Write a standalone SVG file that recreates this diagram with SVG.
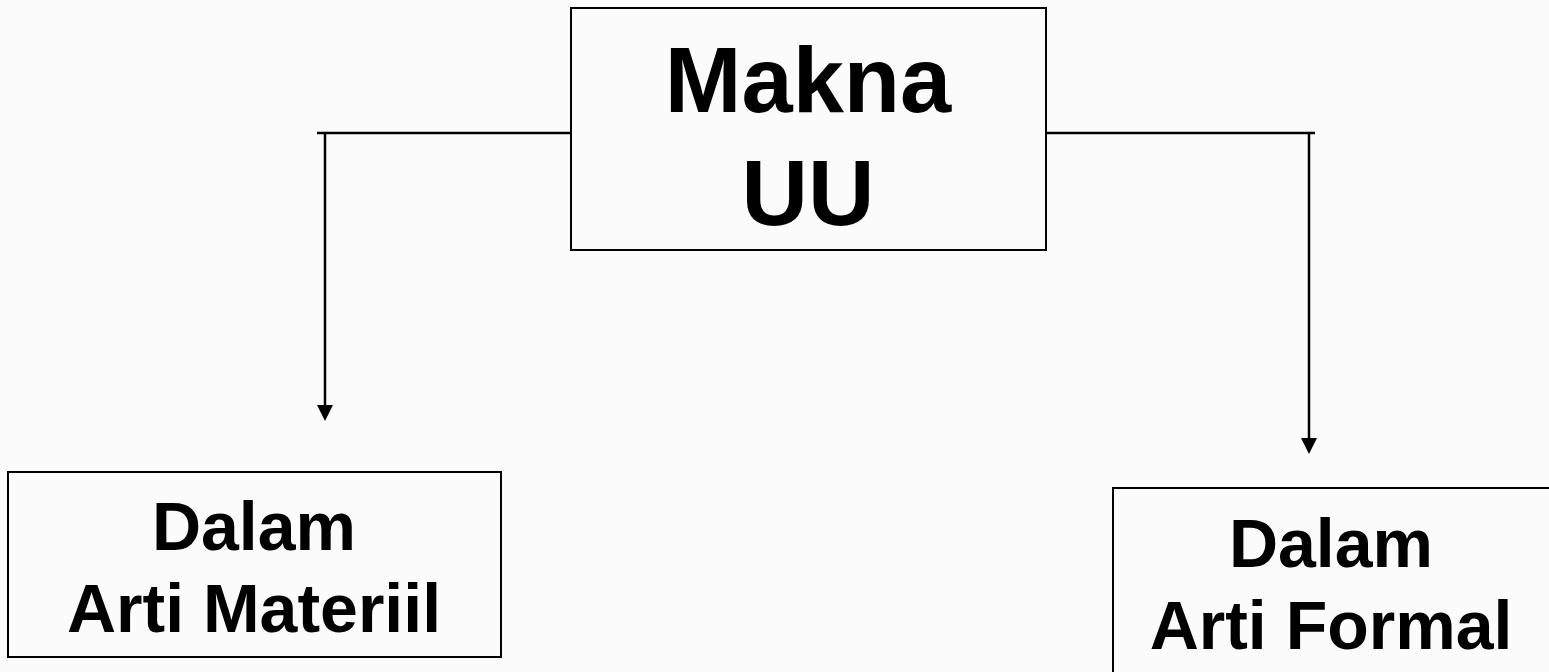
<svg xmlns="http://www.w3.org/2000/svg" width="1549" height="672" viewBox="0 0 1549 672">
<defs>
<style>
.box{fill:none;stroke:#000;stroke-width:2}
.ln{fill:none;stroke:#000;stroke-width:2.5}
.ah{fill:#000}
.t{font-family:"Liberation Sans",Arial,sans-serif;font-weight:bold;fill:#000;text-anchor:middle}
</style>
</defs>
<rect width="1549" height="672" fill="#fbfbfb"/>
<g id="connectors">
<line class="ln" x1="571" y1="133" x2="317" y2="133"/>
<line class="ln" x1="325" y1="133" x2="325" y2="406"/>
<path class="ah" d="M317,405 L333,405 L325,421 Z"/>
<line class="ln" x1="1046" y1="133" x2="1315" y2="133"/>
<line class="ln" x1="1309" y1="133" x2="1309" y2="439"/>
<path class="ah" d="M1301,438 L1317,438 L1309,454 Z"/>
</g>
<g id="node-makna">
<rect class="box" x="571" y="8" width="475" height="242"/>
<text class="t" x="808" y="112" font-size="92">Makna</text>
<text class="t" x="808" y="225" font-size="92">UU</text>
</g>
<g id="node-materiil">
<rect class="box" x="8" y="472" width="493" height="185"/>
<text class="t" x="254" y="550" font-size="68">Dalam</text>
<text class="t" x="254" y="632" font-size="68">Arti Materiil</text>
</g>
<g id="node-formal">
<rect class="box" x="1113" y="488" width="450" height="200"/>
<text class="t" x="1331" y="567" font-size="68">Dalam</text>
<text class="t" x="1331" y="649" font-size="68">Arti Formal</text>
</g>
</svg>
